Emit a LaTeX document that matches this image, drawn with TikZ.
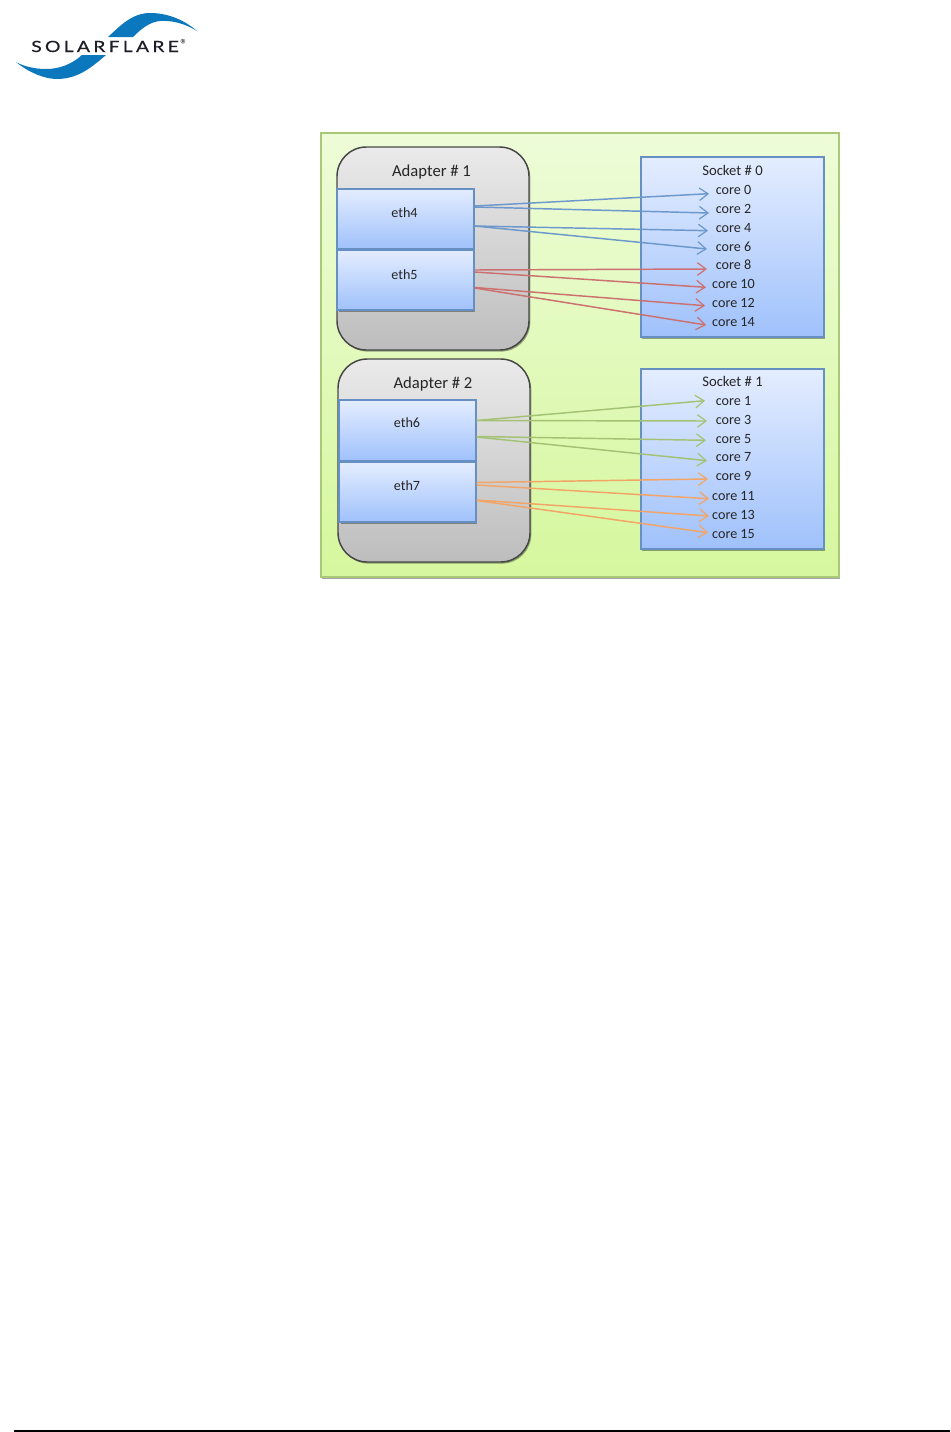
\documentclass[tikz,border=0pt]{standalone}
\usepackage{fontspec}
\setmainfont{Carlito}
\newfontfamily\logofont[LetterSpace=21,FakeStretch=1.25,FakeBold=0.4]{Lato}
\usetikzlibrary{arrows.meta,shadows}
\definecolor{logoblue}{HTML}{0B78BE}
\definecolor{logotext}{HTML}{1E1E28}
\definecolor{cfgreen}{HTML}{A9C878}
\definecolor{ethedge}{HTML}{6690C4}
\definecolor{arblue}{HTML}{6C98CC}
\definecolor{arred}{HTML}{CC7070}
\definecolor{argreen}{HTML}{A3C273}
\definecolor{arorange}{HTML}{F2A566}
\definecolor{panelTop}{HTML}{EDFCD8}
\definecolor{panelBot}{HTML}{D6F79E}
\definecolor{adTop}{HTML}{EAEAEA}
\definecolor{adBot}{HTML}{BDBDBD}
\definecolor{blockTop}{HTML}{E4EDFF}
\definecolor{blockBot}{HTML}{9FC1FB}
\tikzset{
  x=0.75pt,y=-0.75pt,
  pxbox/.style 2 args={minimum width=#1*0.75pt,minimum height=#2*0.75pt,inner sep=0pt},
  softshadow/.style={drop shadow={shadow xshift=1pt,shadow yshift=-1.2pt,opacity=.35,fill=black}},
  panel/.style={draw=cfgreen,line width=1pt,top color=panelTop,bottom color=panelBot,softshadow},
  adapter/.style={draw=black!72,line width=1.1pt,rounded corners=22pt,top color=adTop,bottom color=adBot,softshadow},
  blueblock/.style={draw=ethedge,line width=1.4pt,top color=blockTop,bottom color=blockBot,softshadow},
  socketblock/.style={blueblock,line width=1pt},
  label/.style={inner sep=0pt,text=black!85,text height=6pt,text depth=0pt},
  small/.style={label,font=\fontsize{10.6}{12}\selectfont},
  sockettitle/.style={label,font=\fontsize{11}{12}\selectfont},
  large/.style={label,font=\fontsize{12.5}{14}\selectfont},
  conn/.style={line width=1.1pt,-{Straight Barb[length=6.5pt,width=9.5pt,line width=.9pt]}},
  cblue/.style={conn,draw=arblue},
  cred/.style={conn,draw=arred},
  cgreen/.style={conn,draw=argreen},
  corange/.style={conn,draw=arorange},
}
\begin{document}
\begin{tikzpicture}
\useasboundingbox (0,0) rectangle (950,1432);
\fill[white] (0,0) rectangle (950,1432);

% logo
\fill[logoblue] (197,31) .. controls (182,18) and (165,13) .. (150,13)
  .. controls (132,13) and (120,26) .. (108,37) -- (133,37)
  .. controls (142,28) and (150,22) .. (160,21) .. controls (172,20) and (186,24) .. (197,31) -- cycle;
\fill[logoblue] (16,62) .. controls (28,72) and (44,79) .. (57,79)
  .. controls (78,79) and (92,67) .. (106,55) -- (82,55)
  .. controls (72,64) and (60,69) .. (46,69) .. controls (36,69) and (25,67) .. (16,62) -- cycle;
\node[inner sep=0pt,anchor=base west,text=logotext,font=\logofont\fontsize{11.6}{13}\selectfont] (logotxt) at (31,52) {SOLARFLARE};
\node[inner sep=0pt,text=logotext,font=\fontsize{11}{12}\selectfont] (logomark) at (184,44.5) {®};

% page rule
\draw[black,line width=.8pt] (14,1431) -- (950,1431);

% panels
\node[panel,pxbox={518}{444}] (bg) at (580,355) {};
\node[adapter,pxbox={192}{203}] (ad1) at (433,248.5) {};
\node[adapter,pxbox={192}{203}] (ad2) at (434,460.5) {};
\node[blueblock,pxbox={136.5}{60.5}] (eth4) at (405.5,219) {};
\node[blueblock,pxbox={136.5}{60.5}] (eth5) at (405.5,280) {};
\node[blueblock,pxbox={136.5}{60.5}] (eth6) at (407.5,430.5) {};
\node[blueblock,pxbox={136.5}{60.5}] (eth7) at (407.5,492) {};
\node[socketblock,pxbox={183}{180}] (s0) at (732.5,247) {};
\node[socketblock,pxbox={183}{180}] (s1) at (732.5,459) {};

% labels
\node[large] (a1) at (431.5,172.5) {Adapter \# 1};
\node[large] (a2) at (433,384.5) {Adapter \# 2};
\node[small] (l4) at (404.5,213.5) {eth4};
\node[small] (l5) at (404.5,275.5) {eth5};
\node[small] (l6) at (407,423.5) {eth6};
\node[small] (l7) at (407,486.5) {eth7};
\node[sockettitle] (s0t) at (732.5,171.5) {Socket \# 0};
\node[sockettitle] (s1t) at (732.5,382.5) {Socket \# 1};
\node[small] (c0) at (733.5,190.5) {core 0};
\node[small] (c2) at (733.5,209.5) {core 2};
\node[small] (c4) at (733.5,228.5) {core 4};
\node[small] (c6) at (733.5,247) {core 6};
\node[small] (c8) at (733.5,265.5) {core 8};
\node[small] (c10) at (733.5,284.5) {core 10};
\node[small] (c12) at (733.5,303.5) {core 12};
\node[small] (c14) at (733.5,322.5) {core 14};
\node[small] (c1) at (733.5,401.5) {core 1};
\node[small] (c3) at (733.5,420.5) {core 3};
\node[small] (c5) at (733.5,439.5) {core 5};
\node[small] (c7) at (733.5,457.5) {core 7};
\node[small] (c9) at (733.5,476.5) {core 9};
\node[small] (c11) at (733.5,496.5) {core 11};
\node[small] (c13) at (733.5,515.5) {core 13};
\node[small] (c15) at (733.5,534.5) {core 15};

% connectors: start offset from the eth block's east side, end offset from the core label's centre
\draw[cblue] ([shift={(0,-13)}]eth4.east) -- ([shift={(-24.5,3.2)}]c0.center);
\draw[cblue] ([shift={(0,-12)}]eth4.east) -- ([shift={(-24.5,3.5)}]c2.center);
\draw[cblue] ([shift={(0,7)}]eth4.east) -- ([shift={(-25.5,2.2)}]c4.center);
\draw[cblue] ([shift={(0,7)}]eth4.east) -- ([shift={(-26.5,2)}]c6.center);
\draw[cred] ([shift={(0,-10)}]eth5.east) -- ([shift={(-26.5,3.5)}]c8.center);
\draw[cred] ([shift={(0,-8)}]eth5.east) -- ([shift={(-27.5,2.8)}]c10.center);
\draw[cred] ([shift={(0,7.5)}]eth5.east) -- ([shift={(-28.5,2.2)}]c12.center);
\draw[cred] ([shift={(0,8)}]eth5.east) -- ([shift={(-27.5,2.5)}]c14.center);
\draw[cgreen] ([shift={(0,-10)}]eth6.east) -- ([shift={(-28.5,-0.8)}]c1.center);
\draw[cgreen] ([shift={(0,-10)}]eth6.east) -- ([shift={(-26.5,0.5)}]c3.center);
\draw[cgreen] ([shift={(0,6)}]eth6.east) -- ([shift={(-27.5,0.8)}]c5.center);
\draw[cgreen] ([shift={(0,6.5)}]eth6.east) -- ([shift={(-26.5,3.2)}]c7.center);
\draw[corange] ([shift={(0,-9.5)}]eth7.east) -- ([shift={(-25.5,2.5)}]c9.center);
\draw[corange] ([shift={(0,-7)}]eth7.east) -- ([shift={(-24.5,2.2)}]c11.center);
\draw[corange] ([shift={(0,8)}]eth7.east) -- ([shift={(-24.5,0.5)}]c13.center);
\draw[corange] ([shift={(0,8.5)}]eth7.east) -- ([shift={(-25.5,-1.8)}]c15.center);
\end{tikzpicture}
\end{document}
